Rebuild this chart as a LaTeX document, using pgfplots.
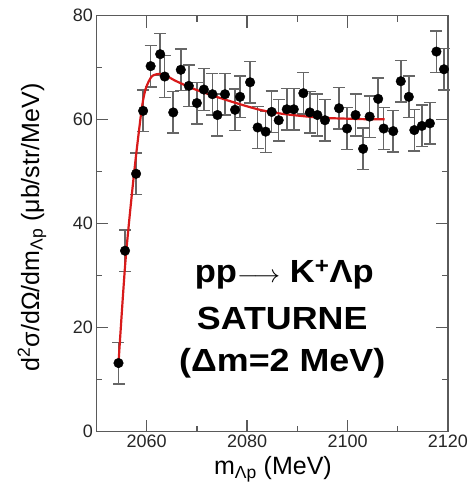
\documentclass[border=0pt]{standalone}
\usepackage{pgfplots}
\pgfplotsset{compat=1.18}
\usepackage{pgfplotstable}
\usepackage{fontspec}
\setmainfont{Liberation Sans}
\definecolor{framegray}{HTML}{5A5A5A}
\definecolor{errgray}{HTML}{666666}
\definecolor{curvered}{HTML}{D81A1A}

\pgfplotstableread{
x       y     e
2054.4  13.2  4.0
2055.7  34.8  4.0
2057.9  49.6  4.0
2059.3  61.7  4.0
2060.8  70.3  4.0
2062.7  72.6  4.0
2063.6  68.3  4.0
2065.3  61.4  4.0
2066.8  69.6  4.0
2068.4  66.5  4.0
2070.0  63.2  4.0
2071.4  65.8  4.0
2073.1  64.9  4.0
2074.1  60.9  4.0
2075.6  64.9  4.0
2077.6  61.9  4.0
2078.6  64.4  4.0
2080.6  67.2  4.0
2082.1  58.5  4.0
2083.7  57.7  4.0
2084.9  61.5  4.0
2086.3  59.9  4.0
2087.9  62.0  4.0
2089.3  62.0  4.0
2091.2  65.1  4.0
2092.5  61.4  4.0
2094.0  60.9  4.0
2095.5  59.9  4.0
2098.3  62.2  4.0
2099.9  58.3  4.0
2101.6  60.9  4.0
2103.1  54.4  4.0
2104.4  60.6  4.0
2106.1  64.0  4.0
2107.2  58.3  4.0
2109.1  57.8  4.0
2110.6  67.4  4.0
2112.2  64.4  4.0
2113.3  58.0  4.0
2114.8  58.8  4.0
2116.4  59.3  4.0
2117.7  73.1  4.0
2119.2  69.7  4.0
}\datatable

\begin{document}
\begin{tikzpicture}
\path[use as bounding box] (0,0) rectangle (469pt,487pt);
\begin{axis}[
  at={(96.4pt,55.3pt)}, anchor=south west,
  width=351.6pt, height=416pt, scale only axis,
  xmin=2050, xmax=2120, ymin=0, ymax=80,
  xtick={2060,2080,2100,2120}, minor xtick={2070,2090,2110},
  ytick={0,20,40,60,80}, minor ytick={10,30,50,70},
  major tick length=12pt, minor tick length=6pt,
  tick align=inside,
  axis line style={framegray, line width=1.3pt},
  tick style={framegray, line width=1.3pt},
  ticklabel style={font=\fontsize{18}{20}\selectfont, text=black!85},
  /pgf/number format/assume math mode=true,
  /pgf/number format/1000 sep={},
  xlabel={m\textsubscript{Λp} (MeV)},
  ylabel={d\textsuperscript{2}σ/dΩ/dm\textsubscript{Λp} (μb/str/MeV)},
  xlabel style={font=\fontsize{25}{28}\selectfont, at={(axis description cs:0.502,-0.104)}, anchor=base},
  ylabel style={font=\fontsize{25}{28}\selectfont, at={(axis description cs:-0.183,0.491)}, anchor=center},
  clip=false,
]
\addplot[only marks, mark=*, mark size=4.8pt, mark options={fill=black, draw=black},
  error bars/.cd, y dir=both, y explicit,
  error mark=|,
  error bar style={errgray, line width=1.5pt},
  error mark options={errgray, line width=1.5pt, mark size=6pt}]
  table[x=x, y=y, y error=e] {\datatable};

\addplot[curvered, line width=2.2pt, smooth, tension=0.45] coordinates {
(2054.4,13.2) (2055.8,33.0) (2057.5,49.7) (2059.0,61.9) (2059.8,65.9)
(2061.0,68.3) (2062.5,68.8) (2064.0,68.4) (2065.5,67.6) (2067.5,66.7)
(2070.0,65.7) (2073.3,64.6) (2076.5,63.6) (2079.9,62.6) (2083.0,61.8)
(2086.5,61.2) (2090.0,60.8) (2093.2,60.5) (2096.5,60.3) (2099.8,60.2)
(2103.5,60.1) (2107.4,60.1)
};

\node[anchor=base, font=\fontsize{32}{38}\selectfont\bfseries] at (axis cs:2087.4,28.7) {\scalebox{1.08}[1]{pp$\longrightarrow$\ K\textsuperscript{+}Λp}};
\node[anchor=base, font=\fontsize{32}{38}\selectfont\bfseries] at (axis cs:2087.0,19.7) {\scalebox{1.12}[1]{SATURNE}};
\node[anchor=base, font=\fontsize{32}{38}\selectfont\bfseries] at (axis cs:2087.0,11.5) {\scalebox{1.12}[1]{(Δm=2 MeV)}};
\end{axis}
\end{tikzpicture}
\end{document}
